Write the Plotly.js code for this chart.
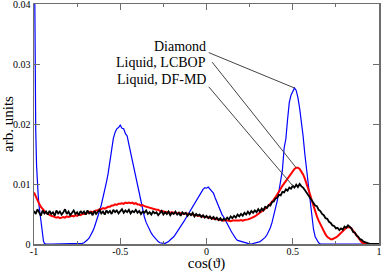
<!DOCTYPE html>
<html>
<head>
<meta charset="utf-8">
<script src="https://cdn.plot.ly/plotly-3.0.1.min.js"></script>
<style>html,body{margin:0;padding:0;background:#fff;}#chart{width:382px;height:272px;}</style>
</head>
<body>
<div id="chart"></div>
<script>
var liquidX0 = -1.0;
var liquidDx = 0.01;

// Liquid, DF-MD (black), cos = -1.00 ... 1.00 step 0.01
var dfmd = [
0.0055,0.0050,0.0058,0.0052,0.0047,0.0056,0.0051,0.0054,0.0049,0.0055,
0.0050,0.0053,0.0047,0.0056,0.0051,0.0054,0.0049,0.0053,0.0058,0.0050,
0.0054,0.0048,0.0052,0.0056,0.0050,0.0053,0.0048,0.0055,0.0051,0.0054,
0.0049,0.0056,0.0051,0.0053,0.0048,0.0055,0.0050,0.0054,0.0057,0.0051,
0.0054,0.0049,0.0056,0.0052,0.0055,0.0050,0.0057,0.0053,0.0056,0.0051,
0.0055,0.0058,0.0052,0.0056,0.0053,0.0057,0.0051,0.0055,0.0053,0.0057,
0.0052,0.0055,0.0050,0.0054,0.0052,0.0056,0.0050,0.0053,0.0049,0.0054,
0.0051,0.0053,0.0048,0.0052,0.0055,0.0049,0.0053,0.0050,0.0054,0.0048,
0.0052,0.0050,0.0054,0.0049,0.0052,0.0047,0.0053,0.0050,0.0052,0.0047,
0.0051,0.0048,0.0052,0.0046,0.0050,0.0047,0.0049,0.0045,0.0048,0.0044,
0.0047,0.0043,0.0046,0.0042,0.0045,0.0041,0.0044,0.0040,0.0043,0.0039,
0.0042,0.0040,0.0044,0.0041,0.0046,0.0043,0.0047,0.0044,0.0049,0.0046,
0.0050,0.0047,0.0052,0.0049,0.0054,0.0050,0.0055,0.0052,0.0056,0.0053,
0.0058,0.0054,0.0059,0.0056,0.0062,0.0060,0.0065,0.0064,0.0070,0.0071,
0.0076,0.0077,0.0082,0.0081,0.0087,0.0086,0.0091,0.0089,0.0094,0.0092,
0.0097,0.0094,0.0099,0.0095,0.0100,0.0096,0.0094,0.0090,0.0086,0.0081,
0.0078,0.0072,0.0070,0.0064,0.0063,0.0057,0.0055,0.0050,0.0048,0.0043,
0.0042,0.0037,0.0035,0.0031,0.0030,0.0026,0.0027,0.0023,0.0026,0.0024,
0.0029,0.0027,0.0031,0.0028,0.0026,0.0020,0.0019,0.0014,0.0012,0.0008,
0.0007,0.0004,0.0003,0.0001,0.0001,0.0000,0.0000,0.0000,0.0000,0.0000,
0.0000
];

// Liquid, LCBOP (red), cos = -1.00 ... 1.00 step 0.01
var lcbop = [
0.0086,0.0079,0.0073,0.0067,0.0062,0.0058,0.0055,0.0052,0.0050,0.0048,
0.0047,0.0046,0.0045,0.0044,0.0045,0.0043,0.0044,0.0045,0.0044,0.0046,
0.0045,0.0046,0.0047,0.0046,0.0048,0.0047,0.0049,0.0048,0.0050,0.0050,
0.0051,0.0052,0.0052,0.0054,0.0053,0.0055,0.0056,0.0056,0.0058,0.0058,
0.0060,0.0059,0.0061,0.0062,0.0062,0.0064,0.0064,0.0066,0.0065,0.0067,
0.0067,0.0068,0.0067,0.0069,0.0068,0.0069,0.0068,0.0069,0.0067,0.0068,
0.0066,0.0066,0.0064,0.0065,0.0063,0.0062,0.0061,0.0061,0.0059,0.0059,
0.0058,0.0057,0.0057,0.0055,0.0055,0.0054,0.0054,0.0053,0.0053,0.0052,
0.0053,0.0052,0.0052,0.0051,0.0052,0.0051,0.0051,0.0050,0.0051,0.0050,
0.0050,0.0049,0.0049,0.0048,0.0048,0.0047,0.0047,0.0046,0.0046,0.0045,
0.0045,0.0044,0.0043,0.0043,0.0042,0.0042,0.0041,0.0041,0.0040,0.0040,
0.0039,0.0040,0.0039,0.0039,0.0038,0.0039,0.0039,0.0038,0.0039,0.0039,
0.0040,0.0039,0.0040,0.0040,0.0041,0.0042,0.0043,0.0045,0.0046,0.0048,
0.0050,0.0052,0.0054,0.0056,0.0059,0.0061,0.0064,0.0067,0.0071,0.0074,
0.0078,0.0082,0.0087,0.0092,0.0097,0.0101,0.0106,0.0110,0.0114,0.0118,
0.0122,0.0125,0.0127,0.0127,0.0125,0.0121,0.0116,0.0109,0.0101,0.0092,
0.0083,0.0073,0.0063,0.0054,0.0046,0.0039,0.0033,0.0027,0.0021,0.0016,
0.0012,0.0010,0.0008,0.0008,0.0009,0.0011,0.0013,0.0016,0.0019,0.0022,
0.0025,0.0027,0.0028,0.0028,0.0026,0.0022,0.0017,0.0013,0.0009,0.0006,
0.0003,0.0001,0.0000,0.0000,0.0000,0.0000,0.0000,0.0000,0.0000,0.0000,
0.0000
];

// Diamond (blue)
var diamondX = [
-1.000,-0.995,-0.990,-0.985,-0.980,-0.975,-0.970,-0.965,-0.960,-0.955,
-0.950,-0.945,-0.940,-0.930,-0.900,-0.800,-0.740,-0.720,-0.710,-0.700,
-0.690,-0.680,-0.670,-0.660,-0.650,-0.640,-0.630,-0.620,-0.610,-0.600,
-0.590,-0.580,-0.570,-0.560,-0.550,-0.540,-0.530,-0.520,-0.510,-0.500,
-0.490,-0.480,-0.470,-0.460,-0.450,-0.440,-0.430,-0.420,-0.410,-0.400,
-0.390,-0.380,-0.370,-0.360,-0.350,-0.340,-0.330,-0.320,-0.310,-0.300,
-0.290,-0.280,-0.270,-0.260,-0.250,-0.240,-0.230,-0.220,-0.210,-0.200,
-0.190,-0.180,-0.170,-0.160,-0.150,-0.140,-0.130,-0.120,-0.110,-0.100,
-0.090,-0.080,-0.070,-0.060,-0.050,-0.040,-0.030,-0.020,-0.010,0.000,
0.010,0.020,0.030,0.040,0.050,0.060,0.070,0.080,0.090,0.100,
0.110,0.120,0.130,0.140,0.150,0.160,0.170,0.180,0.190,0.200,
0.220,0.240,0.260,0.280,0.300,0.310,0.320,0.330,0.340,0.350,
0.360,0.370,0.380,0.390,0.400,0.410,0.420,0.430,0.440,0.450,
0.460,0.470,0.480,0.490,0.500,0.510,0.520,0.530,0.540,0.550,
0.560,0.570,0.580,0.590,0.600,0.610,0.620,0.630,0.640,0.650,
0.660,0.700,0.800,0.900,1.000
];
var diamondY = [
0.0600,0.0300,0.0190,0.0130,0.0098,0.0078,0.0062,0.0050,0.0036,0.0022,
0.0012,0.0005,0.0001,0.0000,0.0000,0.0000,0.0000,0.0001,0.0002,0.0004,
0.0007,0.0010,0.0015,0.0021,0.0028,0.0036,0.0045,0.0055,0.0065,0.0076,
0.0088,0.0103,0.0118,0.0140,0.0158,0.0176,0.0186,0.0192,0.0194,0.0198,
0.0193,0.0192,0.0184,0.0180,0.0166,0.0153,0.0139,0.0125,0.0110,0.0097,
0.0083,0.0069,0.0056,0.0045,0.0036,0.0029,0.0023,0.0018,0.0014,0.0010,
0.0007,0.0004,0.0002,0.0001,0.0001,0.0001,0.0002,0.0004,0.0007,0.0009,
0.0012,0.0016,0.0020,0.0025,0.0029,0.0034,0.0038,0.0043,0.0048,0.0053,
0.0058,0.0062,0.0066,0.0071,0.0077,0.0082,0.0087,0.0091,0.0094,0.0093,
0.0095,0.0091,0.0089,0.0085,0.0077,0.0070,0.0063,0.0055,0.0049,0.0045,
0.0039,0.0033,0.0028,0.0023,0.0018,0.0013,0.0009,0.0006,0.0005,0.0004,
0.0002,0.0001,0.0000,0.0001,0.0003,0.0004,0.0006,0.0008,0.0011,0.0015,
0.0021,0.0027,0.0036,0.0047,0.0062,0.0072,0.0088,0.0105,0.0123,0.0160,
0.0175,0.0208,0.0236,0.0248,0.0254,0.0260,0.0256,0.0244,0.0226,0.0206,
0.0180,0.0150,0.0124,0.0098,0.0070,0.0042,0.0025,0.0012,0.0006,0.0002,
0.0000,0.0000,0.0000,0.0000,0.0000
];

var labels = ["Diamond", "Liquid, LCBOP", "Liquid, DF-MD"];
var xTickVals = [-1, -0.5, 0, 0.5, 1];
var xTickText = ["-1", "-0.5", "0", "0.5", "1"];
var yTickVals = [0, 0.01, 0.02, 0.03, 0.04];
var yTickText = ["0", "0.01", "0.02", "0.03", "0.04"];

var serif = "Liberation Serif";

var traces = [
  {x: diamondX, y: diamondY, type: "scatter", mode: "lines", name: labels[0],
   line: {color: "#0000ff", width: 1.2}},
  {y: lcbop, x0: liquidX0, dx: liquidDx, type: "scatter", mode: "lines", name: labels[1],
   line: {color: "#ff0000", width: 2}},
  {y: dfmd, x0: liquidX0, dx: liquidDx, type: "scatter", mode: "lines", name: labels[2],
   line: {color: "#000000", width: 1.8}}
];

function peakAround(xs, ys, lo, hi) {
  var bi = -1;
  for (var i = 0; i < ys.length; i++) {
    if (xs[i] >= lo && xs[i] <= hi && (bi < 0 || ys[i] > ys[bi])) bi = i;
  }
  return [xs[bi], ys[bi]];
}
var liqX = dfmd.map(function (_, i) { return liquidX0 + i * liquidDx; });
var tipD = peakAround(diamondX, diamondY, 0.3, 0.7);
var tipL = peakAround(liqX, lcbop, 0.3, 0.7);
var tipM = [0.50, dfmd[150]];

var axisColor = "#6e6e6e";
var txt = function (s) { return {family: serif, size: s, color: "#000", weight: "normal"}; };
var layout = {
  width: 382, height: 272,
  margin: {l: 34, r: 3, t: 4, b: 28},
  paper_bgcolor: "#fff", plot_bgcolor: "#fff",
  showlegend: false,
  font: txt(10),
  xaxis: {
    range: [-1, 1], tickmode: "array", tickvals: xTickVals, ticktext: xTickText,
    ticks: "inside", ticklen: 6, tickcolor: axisColor, tickwidth: 1,
    minor: {ticks: "inside", ticklen: 3, tickmode: "linear", tick0: -1, dtick: 0.25, tickcolor: axisColor},
    showline: true, linecolor: axisColor, linewidth: 1.5, mirror: "ticks",
    showgrid: false, zeroline: false, ticklabeloverflow: "allow", automargin: false,
    ticklabelstandoff: -3,
    tickfont: txt(10),
    title: {text: "cos(ϑ)", font: txt(15), standoff: 0}
  },
  yaxis: {
    range: [0, 0.04], tickmode: "array", tickvals: yTickVals, ticktext: yTickText,
    ticks: "inside", ticklen: 6, tickcolor: axisColor, tickwidth: 1,
    showline: true, linecolor: axisColor, linewidth: 1.5, mirror: "ticks",
    showgrid: false, zeroline: false, ticklabeloverflow: "allow", automargin: false,
    tickfont: txt(10),
    title: {text: "arb. units", font: txt(15), standoff: 1}
  },
  annotations: [
    {x: 0.006, y: 0.033, text: labels[0], showarrow: false, xanchor: "right", yanchor: "middle", font: txt(14)},
    {x: 0.006, y: 0.0303, text: labels[1], showarrow: false, xanchor: "right", yanchor: "middle", font: txt(14)},
    {x: 0.006, y: 0.0275, text: labels[2], showarrow: false, xanchor: "right", yanchor: "middle", font: txt(14)}
  ],
  shapes: [
    {type: "line", xref: "x", yref: "y", x0: 0.013, y0: 0.0319, x1: tipD[0], y1: tipD[1],
     line: {color: "#444", width: 1}},
    {type: "line", xref: "x", yref: "y", x0: 0.033, y0: 0.0303, x1: tipL[0], y1: tipL[1],
     line: {color: "#444", width: 1}},
    {type: "line", xref: "x", yref: "y", x0: 0.013, y0: 0.0262, x1: tipM[0], y1: tipM[1],
     line: {color: "#444", width: 1}}
  ]
};

Plotly.newPlot("chart", traces, layout, {staticPlot: true, displayModeBar: false});
</script>
</body>
</html>
